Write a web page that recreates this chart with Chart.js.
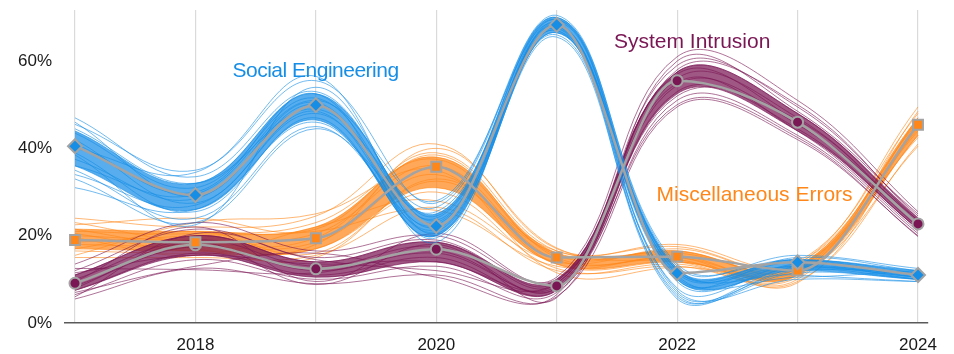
<!DOCTYPE html>
<html>
<head>
<meta charset="utf-8">
<script src="https://cdn.jsdelivr.net/npm/chart.js@4/dist/chart.umd.min.js"></script>
<style>
  html, body { margin: 0; padding: 0; background: #fff; }
  #wrap { width: 954px; height: 354px; }
</style>
</head>
<body>
<div id="wrap"><canvas id="c" width="954" height="354"></canvas></div>
<script>
// Years on the x axis and percentage ticks on the y axis
const years = [2017, 2018, 2019, 2020, 2021, 2022, 2023, 2024];
const yTicks = [0, 20, 40, 60];

// Share of breaches (%) — median estimate per pattern
const socialMedian = [40.5, 29.3, 49.9, 22.2, 68.3, 11.4, 13.9, 11.0];
const miscMedian   = [19.0, 18.5, 19.4, 35.8, 15.0, 15.2, 12.0, 45.4];
const intrusionMedian = [9.1, 17.9, 12.4, 16.9, 8.5, 55.5, 46.0, 22.7];

// Central range of the resampled runs
const socialLow  = [36.0, 26.0, 46.5, 20.0, 66.5, 10.0, 12.0, 10.0];
const socialHigh = [44.0, 32.0, 52.5, 25.0, 70.0, 12.5, 14.5, 12.0];
const miscLow    = [17.0, 16.5, 17.0, 31.0, 13.5, 14.0, 11.0, 43.0];
const miscHigh   = [21.5, 21.0, 22.0, 38.0, 16.0, 16.5, 13.0, 47.0];
const intrusionLow  = [7.5, 15.5, 10.5, 14.0, 7.5, 52.5, 44.0, 21.5];
const intrusionHigh = [11.0, 20.0, 14.0, 18.5, 10.0, 57.5, 48.0, 24.0];

// Individual resampled runs
const socialRuns = [
  [47.0, 33.5, 53.0, 24.5, 69.5, 12.0, 14.5, 11.5],
  [45.5, 35.0, 55.5, 27.5, 70.5, 13.0, 15.5, 12.5],
  [43.5, 31.0, 51.5, 23.0, 68.0, 10.5, 13.0, 10.5],
  [42.0, 27.5, 48.5, 21.0, 67.5, 11.5, 14.0, 11.0],
  [39.0, 25.5, 47.0, 20.0, 66.5, 9.5, 12.5, 10.0],
  [37.5, 28.5, 50.5, 19.5, 68.5, 7.0, 12.0, 11.5],
  [35.0, 24.0, 45.0, 22.5, 66.0, 8.0, 13.5, 10.5],
  [33.0, 23.0, 44.5, 25.5, 67.0, 12.5, 11.0, 9.5],
  [31.0, 26.0, 46.0, 21.5, 65.5, 6.5, 11.5, 10.0],
  [41.0, 30.0, 52.5, 18.5, 69.0, 11.0, 10.5, 12.0],
  [44.5, 32.0, 49.0, 26.5, 70.0, 13.5, 14.5, 11.0],
  [38.5, 22.5, 54.0, 23.5, 67.5, 7.5, 10.0, 9.5],
  [36.0, 29.5, 51.0, 28.0, 68.5, 10.0, 15.0, 12.0],
  [40.0, 34.5, 56.5, 20.5, 69.5, 12.0, 13.0, 10.5],
  [46.0, 29.0, 50.0, 22.0, 67.0, 5.5, 12.5, 11.0],
  [34.0, 27.0, 48.0, 24.0, 68.0, 6.0, 13.0, 10.0]
];
const miscRuns = [
  [24.0, 22.0, 24.5, 41.0, 17.0, 17.5, 13.5, 49.5],
  [22.5, 24.0, 21.5, 39.0, 16.5, 18.0, 14.0, 48.0],
  [21.0, 20.5, 23.0, 37.5, 15.5, 16.5, 12.5, 46.5],
  [20.0, 19.0, 20.5, 36.0, 14.5, 15.0, 11.5, 45.5],
  [18.0, 17.5, 18.5, 34.0, 13.5, 14.0, 12.0, 44.5],
  [16.5, 16.0, 17.0, 30.0, 12.5, 13.0, 10.5, 43.0],
  [15.0, 15.0, 15.5, 26.5, 12.0, 13.5, 9.5, 41.0],
  [17.0, 21.0, 16.0, 32.5, 16.0, 15.5, 11.0, 40.5],
  [19.5, 15.5, 22.0, 28.0, 14.0, 17.0, 13.0, 44.0],
  [23.0, 18.5, 19.5, 38.5, 15.0, 14.5, 10.0, 47.0],
  [15.5, 23.0, 25.0, 35.0, 11.5, 12.8, 12.5, 42.5],
  [21.5, 17.0, 15.0, 33.0, 16.5, 16.0, 13.5, 46.0],
  [18.5, 20.0, 21.0, 25.8, 13.0, 15.0, 9.2, 45.0],
  [20.5, 16.5, 18.0, 40.0, 17.2, 14.0, 11.0, 48.5]
];
const intrusionRuns = [
  [13.5, 23.0, 16.5, 20.0, 10.5, 61.0, 51.0, 25.5],
  [12.0, 21.5, 15.0, 19.0, 9.5, 59.0, 49.5, 24.5],
  [11.0, 20.0, 14.0, 18.5, 9.0, 57.5, 48.0, 23.5],
  [10.0, 19.0, 13.0, 17.5, 8.0, 56.0, 47.0, 23.0],
  [8.5, 17.5, 12.0, 16.0, 8.5, 54.5, 45.5, 22.0],
  [7.5, 16.0, 11.0, 15.0, 7.5, 53.0, 44.5, 21.5],
  [6.5, 14.5, 10.0, 13.0, 7.0, 51.0, 43.0, 20.5],
  [5.5, 12.5, 9.0, 11.0, 6.0, 49.5, 42.0, 20.0],
  [9.5, 22.0, 9.5, 20.5, 10.0, 52.0, 46.5, 22.5],
  [7.0, 13.0, 16.0, 10.5, 6.5, 58.0, 50.0, 24.0],
  [11.5, 15.5, 13.5, 14.0, 9.0, 55.0, 44.0, 21.0],
  [8.0, 18.5, 8.8, 18.0, 5.8, 60.0, 48.5, 25.0],
  [12.5, 12.2, 11.5, 16.5, 8.0, 50.0, 42.5, 19.8],
  [6.0, 20.5, 14.5, 12.0, 9.5, 57.0, 46.0, 23.5]
];

const seriesNames = ['Social Engineering', 'Miscellaneous Errors', 'System Intrusion'];

const BLUE = [22, 142, 230];
const ORANGE = [255, 135, 25];
const MAROON = [122, 22, 84];
const GREY = '#a3a3a3';
const FONT = '"Liberation Sans", Arial, Helvetica, sans-serif';

const rgba = (c, a) => `rgba(${c[0]},${c[1]},${c[2]},${a})`;
const pts = arr => arr.map((v, i) => ({ x: years[i], y: v }));

// Spaghetti runs plus a filled core band for one pattern
function cloud(runs, low, high, color, order) {
  const sets = runs.map(r => ({
    data: pts(r), borderColor: rgba(color, 0.6), borderWidth: 1,
    pointRadius: 0, tension: 0.4, fill: false, order
  }));
  sets.push({
    data: pts(low), borderColor: rgba(color, 0.65), borderWidth: 1,
    pointRadius: 0, tension: 0.4, fill: false, order
  });
  sets.push({
    data: pts(high), borderColor: rgba(color, 0.65), borderWidth: 1,
    backgroundColor: rgba(color, 0.72),
    pointRadius: 0, tension: 0.4, fill: '-1', order
  });
  return sets;
}

function median(values, color, style, radius, name) {
  return {
    label: name, data: pts(values), borderColor: GREY, borderWidth: 2.5,
    cubicInterpolationMode: 'monotone', fill: false, order: 0,
    pointStyle: style, pointRadius: radius, pointBackgroundColor: rgba(color, 1),
    pointBorderColor: GREY, pointBorderWidth: 2
  };
}

const datasets = [
  median(socialMedian, BLUE, 'rectRot', 7, seriesNames[0]),
  median(miscMedian, ORANGE, 'rect', 7, seriesNames[1]),
  median(intrusionMedian, MAROON, 'circle', 5.5, seriesNames[2]),
  ...cloud(socialRuns, socialLow, socialHigh, BLUE, 1),
  ...cloud(intrusionRuns, intrusionLow, intrusionHigh, MAROON, 2),
  ...cloud(miscRuns, miscLow, miscHigh, ORANGE, 3)
];

// Direct labels next to each pattern
const labelPlugin = {
  id: 'seriesLabels',
  afterDatasetsDraw(chart) {
    const ctx = chart.ctx;
    const items = [
      { text: seriesNames[0], color: BLUE, x: 232.5, y: 76.5, ls: '-0.5px' },
      { text: seriesNames[2], color: MAROON, x: 614, y: 47.5, ls: '0px' },
      { text: seriesNames[1], color: ORANGE, x: 656.5, y: 201, ls: '0px' }
    ];
    ctx.save();
    ctx.font = '21px ' + FONT;
    ctx.textAlign = 'left';
    ctx.textBaseline = 'alphabetic';
    for (const it of items) {
      ctx.letterSpacing = it.ls;
      ctx.fillStyle = rgba(it.color, 1);
      ctx.fillText(it.text, it.x, it.y);
    }
    ctx.restore();
  }
};

new Chart(document.getElementById('c'), {
  type: 'line',
  data: { datasets },
  options: {
    responsive: false,
    animation: false,
    devicePixelRatio: 1,
    layout: { padding: { top: 10, right: 26, left: 0, bottom: 0 } },
    plugins: { legend: { display: false }, tooltip: { enabled: false } },
    scales: {
      x: {
        type: 'linear',
        min: 2016.917,
        max: 2024.083,
        afterBuildTicks: s => { s.ticks = years.map(v => ({ value: v })); },
        afterFit: s => { s.height = 31; s.paddingLeft = 0; s.paddingRight = 0; },
        ticks: {
          autoSkip: false, maxRotation: 0, padding: 12,
          color: '#1a1a1a', font: { family: FONT, size: 17 },
          callback: v => (v % 2 === 0 ? String(v) : '')
        },
        grid: { color: '#dadada', lineWidth: 1.2, drawTicks: false },
        border: { color: '#5a5a5a', width: 1.5 }
      },
      y: {
        min: 0,
        max: 71.7,
        afterBuildTicks: s => { s.ticks = yTicks.map(v => ({ value: v })); },
        afterFit: s => { s.width = 65; s.paddingTop = 0; s.paddingBottom = 0; },
        ticks: {
          padding: 13, color: '#1a1a1a', font: { family: FONT, size: 17 },
          callback: v => v + '%'
        },
        grid: { display: false, drawTicks: false },
        border: { display: false }
      }
    }
  },
  plugins: [labelPlugin]
});
</script>
</body>
</html>
